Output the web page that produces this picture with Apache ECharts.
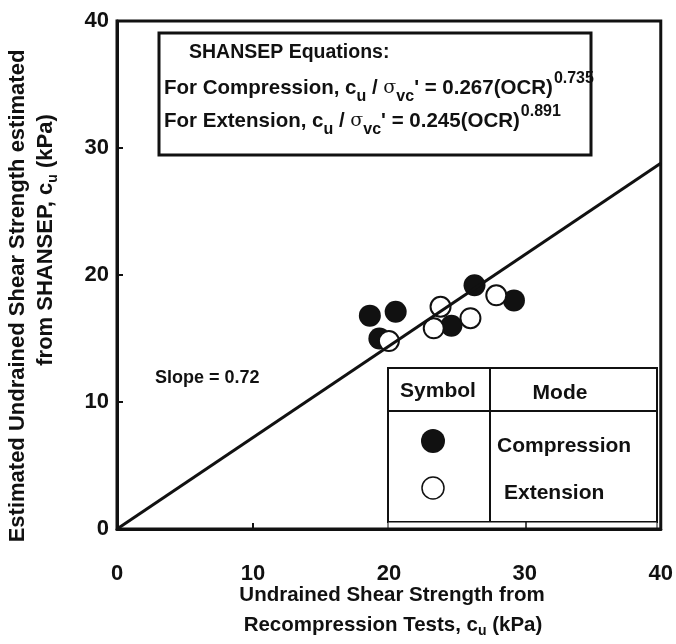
<!DOCTYPE html>
<html>
<head>
<meta charset="utf-8">
<script src="https://cdn.jsdelivr.net/npm/echarts@6/dist/echarts.min.js"></script>
<style>
  html, body { margin: 0; padding: 0; background: #fff; }
  #main { width: 676px; height: 644px; }
</style>
</head>
<body>
<div id="main"></div>
<script>
// data
var compX = [18.6, 20.5, 19.3, 24.6, 26.3, 29.2];
var compY = [16.8, 17.1, 15.0, 16.0, 19.2, 18.0];
var extX = [20.0, 23.8, 23.3, 26.0, 27.9];
var extY = [14.8, 17.5, 15.8, 16.6, 18.4];
var slope = 0.72;
var fitX = [0, 40];

var FONT = '"Liberation Sans", Arial, sans-serif';

function pairs(xs, ys) {
  return xs.map(function (x, i) { return [x, ys[i]]; });
}

var myChart = echarts.init(document.getElementById('main'));

// rich styles for sub / superscripts
var eqRich = {
  s: { font: 'bold 16px ' + FONT, lineHeight: 16, verticalAlign: 'bottom', padding: [12, 0, 0, 0] },
  g: { font: '19px "DejaVu Serif", serif', lineHeight: 34 },
  p: { font: 'bold 16px ' + FONT, lineHeight: 16, verticalAlign: 'top', padding: [0, 0, 10, 1] }
};
var titleRich = {
  s: { font: 'bold 14px ' + FONT, lineHeight: 14, verticalAlign: 'bottom', padding: [8, 0, 0, 0] }
};

var option = {
  animation: false,
  backgroundColor: '#fff',
  grid: {
    left: 117, right: 11, top: 21, bottom: 115,
    show: true, borderColor: '#111', borderWidth: 3, backgroundColor: 'transparent'
  },
  xAxis: {
    type: 'value', min: 0, max: 40, interval: 10,
    axisLine: { show: true, onZero: false, lineStyle: { color: '#111', width: 3 } },
    axisTick: { show: true, inside: true, length: 6, lineStyle: { color: '#111', width: 2 } },
    axisLabel: { margin: 34, color: '#111', fontFamily: FONT, fontWeight: 'bold', fontSize: 22 },
    splitLine: { show: false }
  },
  yAxis: {
    type: 'value', min: 0, max: 40, interval: 10,
    axisLine: { show: true, onZero: false, lineStyle: { color: '#111', width: 3 } },
    axisTick: { show: true, inside: true, length: 6, lineStyle: { color: '#111', width: 2 } },
    axisLabel: { margin: 8, color: '#111', fontFamily: FONT, fontWeight: 'bold', fontSize: 22 },
    splitLine: { show: false }
  },
  series: [
    {
      name: 'Compression', type: 'scatter', symbol: 'circle', symbolSize: 22,
      itemStyle: { color: '#111', opacity: 1 }, z: 3,
      data: pairs(compX, compY)
    },
    {
      name: 'Extension', type: 'scatter', symbol: 'circle', symbolSize: 20,
      itemStyle: { color: '#fff', borderColor: '#111', borderWidth: 2, opacity: 1 }, z: 3,
      data: pairs(extX, extY)
    },
    {
      name: 'Fit', type: 'line', symbol: 'none', z: 4,
      lineStyle: { color: '#111', width: 3 },
      data: fitX.map(function (x) { return [x, x * slope]; })
    }
  ],
  graphic: [
    // equations box
    { type: 'rect', shape: { x: 159, y: 33, width: 432, height: 122 },
      style: { fill: '#fff', stroke: '#111', lineWidth: 3 }, z: 10 },
    { type: 'text', x: 189, y: 53, z: 11,
      style: { text: 'SHANSEP Equations:', font: 'bold 19.5px ' + FONT, fill: '#111', verticalAlign: 'middle' } },
    { type: 'text', x: 164, y: 88, z: 11,
      style: {
        text: 'For Compression, c{s|u} / {g|σ}{s|vc}\' = 0.267(OCR){p|0.735}',
        font: 'bold 20.5px ' + FONT, fill: '#111', verticalAlign: 'middle', lineHeight: 34, rich: eqRich
      } },
    { type: 'text', x: 164, y: 121, z: 11,
      style: {
        text: 'For Extension, c{s|u} / {g|σ}{s|vc}\' = 0.245(OCR){p|0.891}',
        font: 'bold 20.5px ' + FONT, fill: '#111', verticalAlign: 'middle', lineHeight: 34, rich: eqRich
      } },
    // slope label
    { type: 'text', x: 155, y: 378, z: 11,
      style: { text: 'Slope = 0.72', font: 'bold 18px ' + FONT, fill: '#111', verticalAlign: 'middle' } },
    // legend table
    { type: 'rect', shape: { x: 388, y: 368, width: 269, height: 154 },
      style: { fill: '#fff', stroke: '#111', lineWidth: 2 }, z: 10 },
    { type: 'line', shape: { x1: 388, y1: 411, x2: 657, y2: 411 }, style: { stroke: '#111', lineWidth: 2 }, z: 11 },
    { type: 'line', shape: { x1: 490, y1: 368, x2: 490, y2: 522 }, style: { stroke: '#111', lineWidth: 2 }, z: 11 },
    { type: 'rect', shape: { x: 388, y: 522, width: 269, height: 6 },
      style: { fill: '#fff', stroke: '#111', lineWidth: 1 }, z: 10 },
    { type: 'line', shape: { x1: 526, y1: 522, x2: 526, y2: 529 }, style: { stroke: '#111', lineWidth: 1.5 }, z: 11 },
    { type: 'text', x: 438, y: 391, z: 11,
      style: { text: 'Symbol', font: 'bold 21px ' + FONT, fill: '#111', align: 'center', verticalAlign: 'middle' } },
    { type: 'text', x: 560, y: 393, z: 11,
      style: { text: 'Mode', font: 'bold 21px ' + FONT, fill: '#111', align: 'center', verticalAlign: 'middle' } },
    { type: 'circle', shape: { cx: 433, cy: 441, r: 12 }, style: { fill: '#111' }, z: 11 },
    { type: 'circle', shape: { cx: 433, cy: 488, r: 11 }, style: { fill: '#fff', stroke: '#111', lineWidth: 1.5 }, z: 11 },
    { type: 'text', x: 497, y: 446, z: 11,
      style: { text: 'Compression', font: 'bold 21px ' + FONT, fill: '#111', verticalAlign: 'middle' } },
    { type: 'text', x: 504, y: 493, z: 11,
      style: { text: 'Extension', font: 'bold 21px ' + FONT, fill: '#111', verticalAlign: 'middle' } },
    // x axis title
    { type: 'text', x: 392, y: 595, z: 11,
      style: { text: 'Undrained Shear Strength from', font: 'bold 20.5px ' + FONT, fill: '#111', align: 'center', verticalAlign: 'middle' } },
    { type: 'text', x: 393, y: 625, z: 11,
      style: {
        text: 'Recompression Tests, c{s|u} (kPa)', font: 'bold 20.5px ' + FONT, fill: '#111',
        align: 'center', verticalAlign: 'middle', lineHeight: 26, rich: titleRich
      } },
    // y axis title (rotated)
    { type: 'text', x: 18, y: 296, rotation: Math.PI / 2, z: 11,
      style: { text: 'Estimated Undrained Shear Strength estimated', font: 'bold 22px ' + FONT, fill: '#111', align: 'center', verticalAlign: 'middle' } },
    { type: 'text', x: 46, y: 240, rotation: Math.PI / 2, z: 11,
      style: {
        text: 'from SHANSEP, c{s|u} (kPa)', font: 'bold 22px ' + FONT, fill: '#111',
        align: 'center', verticalAlign: 'middle', lineHeight: 28, rich: titleRich
      } }
  ]
};

myChart.setOption(option);
</script>
</body>
</html>
